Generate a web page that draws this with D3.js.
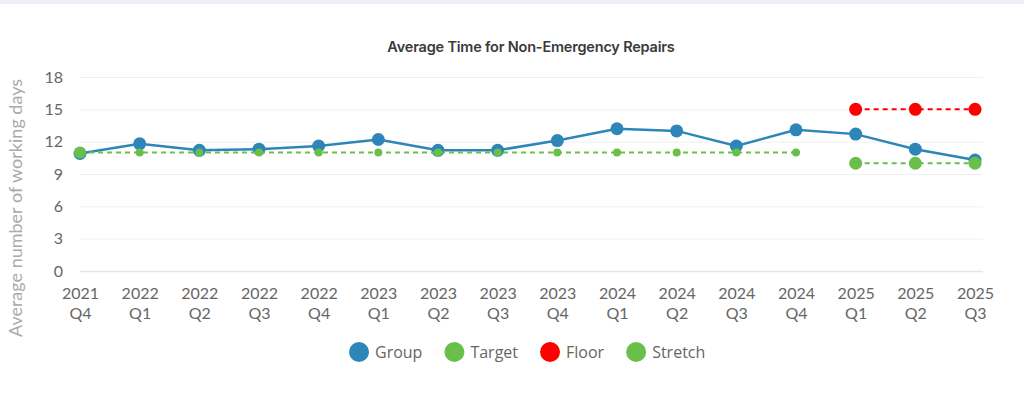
<!DOCTYPE html>
<html>
<head>
<meta charset="utf-8">
<script src="https://cdn.jsdelivr.net/npm/d3@7"></script>
<style>
  html, body { margin: 0; padding: 0; background: #fff; }
  .band { height: 4px; background: #eceff7; }
</style>
</head>
<body>
<div class="band"></div>
<svg id="chart"></svg>
<script>
const quarters = ['2021 Q4', '2022 Q1', '2022 Q2', '2022 Q3', '2022 Q4', '2023 Q1', '2023 Q2', '2023 Q3',
  '2023 Q4', '2024 Q1', '2024 Q2', '2024 Q3', '2024 Q4', '2025 Q1', '2025 Q2', '2025 Q3'];
const groupValues = [10.9, 11.8, 11.2, 11.3, 11.6, 12.2, 11.2, 11.2, 12.1, 13.2, 13.0, 11.6, 13.1, 12.7, 11.3, 10.3];
const targetValues = [11, 11, 11, 11, 11, 11, 11, 11, 11, 11, 11, 11, 11, null, null, null];
const floorValues = [null, null, null, null, null, null, null, null, null, null, null, null, null, 15, 15, 15];
const stretchValues = [null, null, null, null, null, null, null, null, null, null, null, null, null, 10, 10, 10];
const yTicks = [0, 3, 6, 9, 12, 15, 18];

const W = 1024, H = 404;
const svg = d3.select('#chart').attr('width', W).attr('height', H);

const x = d3.scalePoint().domain(quarters).range([80, 975]);
const y = d3.scaleLinear().domain([0, 18]).range([267, 73]);

// title
svg.append('text')
  .attr('x', 531).attr('y', 48)
  .attr('text-anchor', 'middle')
  .style('font-family', 'Inter, sans-serif')
  .style('font-weight', 600)
  .style('font-size', '14.5px')
  .style('letter-spacing', '-0.2px')
  .style('fill', '#3a3a3a')
  .text('Average Time for Non-Emergency Repairs');

// grid
svg.append('g')
  .selectAll('line')
  .data(yTicks)
  .enter()
  .append('line')
  .attr('x1', 80).attr('x2', 983)
  .attr('y1', d => y(d) + 0.5).attr('y2', d => y(d) + 0.5)
  .attr('stroke', d => d === 0 ? '#e6e6e6' : '#f0f0f0')
  .attr('stroke-width', d => d === 0 ? 1.5 : 1);

// y axis
const yAxis = d3.axisLeft(y).tickValues(yTicks).tickSize(0).tickPadding(0);
const gy = svg.append('g').attr('transform', 'translate(63,0)').call(yAxis);
gy.select('.domain').remove();
gy.selectAll('text')
  .style('font-family', 'Lato, sans-serif')
  .style('font-size', '16px')
  .style('fill', '#666');

svg.append('text')
  .attr('transform', 'translate(22,204) rotate(-90)')
  .attr('text-anchor', 'middle')
  .style('font-family', 'Lato, sans-serif')
  .style('font-size', '18px')
  .style('fill', '#aaa')
  .text('Average number of working days');

// x axis, two-line labels
const xAxis = d3.axisBottom(x).tickSize(0).tickFormat('');
const gx = svg.append('g').attr('transform', 'translate(0,267)').call(xAxis);
gx.select('.domain').remove();
gx.selectAll('.tick').each(function (d) {
  const parts = d.split(' ');
  const t = d3.select(this).append('text')
    .attr('text-anchor', 'middle')
    .style('font-family', 'Lato, sans-serif')
    .style('font-size', '16px')
    .style('fill', '#666');
  t.append('tspan').attr('x', 0).attr('y', 28).text(parts[0]);
  t.append('tspan').attr('x', 0).attr('y', 48).text(parts[1]);
});

const line = d3.line()
  .defined(d => d.v != null)
  .x(d => x(d.q))
  .y(d => y(d.v));

const toPoints = vals => quarters.map((q, i) => ({ q: q, v: vals[i], i: i }));

const series = [
  { name: 'Group', vals: groupValues, color: '#2e86b8', dash: null, width: 2.5, r: () => 6.5 },
  { name: 'Target', vals: targetValues, color: '#6abf4b', dash: '5,4', width: 2, r: d => d.i === 0 ? 6 : 4 },
  { name: 'Floor', vals: floorValues, color: '#ff0000', dash: '5,4', width: 2, r: () => 6.5 },
  { name: 'Stretch', vals: stretchValues, color: '#6abf4b', dash: '5,4', width: 2, r: () => 6.5 }
];

series.forEach(s => {
  const pts = toPoints(s.vals);
  svg.append('path')
    .datum(pts)
    .attr('d', line)
    .attr('fill', 'none')
    .attr('stroke', s.color)
    .attr('stroke-width', s.width)
    .attr('stroke-dasharray', s.dash);
  svg.append('g')
    .selectAll('circle')
    .data(pts.filter(d => d.v != null))
    .enter()
    .append('circle')
    .attr('cx', d => x(d.q))
    .attr('cy', d => y(d.v))
    .attr('r', s.r)
    .attr('fill', s.color);
});

// legend
const legend = svg.append('g').attr('transform', 'translate(0,348)');
let lx = 349;
series.forEach(s => {
  legend.append('circle')
    .attr('cx', lx + 10).attr('cy', 0).attr('r', 10)
    .attr('fill', s.color);
  const t = legend.append('text')
    .attr('x', lx + 26).attr('y', 5.5)
    .style('font-family', '"Open Sans", sans-serif')
    .style('font-size', '16px')
    .style('fill', '#666')
    .text(s.name);
  lx += 26 + t.node().getComputedTextLength() + 22;
});
</script>
</body>
</html>
